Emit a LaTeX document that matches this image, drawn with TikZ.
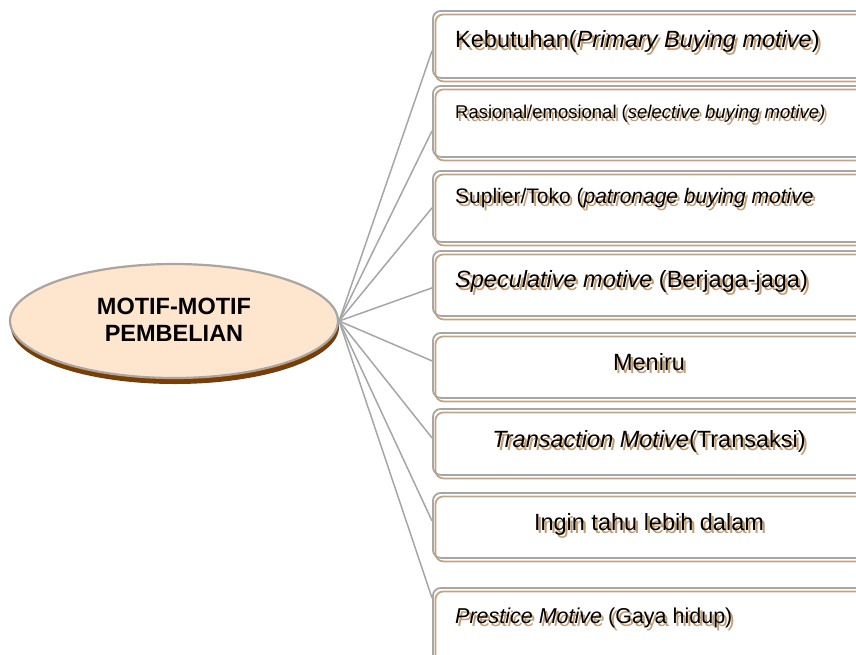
\documentclass[tikz,border=0pt]{standalone}
\usepackage{fontspec}
\setmainfont{Liberation Sans}
\usetikzlibrary{shapes.geometric}
\definecolor{linegray}{RGB}{166,166,166}
\definecolor{tanline}{RGB}{196,164,128}
\definecolor{tanshadow}{RGB}{196,156,112}
\definecolor{peach}{RGB}{253,229,206}
\definecolor{darkbrown}{RGB}{122,62,2}
\tikzset{
  motivebox/.style={draw=linegray, line width=1.8pt, rounded corners=8pt,
    minimum width=440pt, anchor=north west, inner sep=0pt},
  motiveback/.style={motivebox, draw=tanline},
  link/.style={draw=linegray, line width=1.5pt},
  hubshape/.style={ellipse, minimum width=328pt, minimum height=114pt, inner sep=0pt},
  txt/.style={inner sep=0pt, text=black},
}
% text with a tan copy set slightly right and below it
\newcommand\shadowed[1]{%
  \rlap{\hspace{2.5pt}\raisebox{-3.5pt}[0pt][0pt]{\color{tanshadow}#1}}#1}
\begin{document}
\begin{tikzpicture}[x=1pt,y=-1pt]
\useasboundingbox (0,0) rectangle (856,654);
\clip (0,0) rectangle (856,654);

% central ellipse with its dark shadow
\node[hubshape, fill=darkbrown] (hubs) at (175,327) {};
\node[hubshape, fill=peach, draw=linegray, line width=2.2pt] (hub) at (174,321) {};
\node[inner sep=0pt, font=\fontsize{23.5}{27}\selectfont\bfseries, align=center] (hubtext) at (174,320) {MOTIF-MOTIF\\PEMBELIAN};

% boxes: tan outline slightly offset behind the gray one
\foreach \n/\top/\h in {1/10/67, 2/85/71, 3/170/71, 4/250/65, 5/332/65, 6/408/66, 7/492/65, 8/587/78} {
  \node[motiveback, minimum height=\h pt] (k\n) at (434.5,\top+3.5) {};
  \node[motivebox, minimum height=\h pt] (b\n) at (432,\top) {};
}

% connectors from the ellipse to the boxes
\draw[link] (hub.east) -- ([yshift=-6.5pt]b1.west);
\draw[link] (hub.east) -- ([yshift=-9.5pt]b2.west);
\draw[link] (hub.east) -- ([yshift=-1.5pt]b3.west);
\draw[link] (hub.east) -- ([yshift=-4.5pt]b4.west);
\draw[link] (hub.east) -- ([yshift=4.5pt]b5.west);
\draw[link] (hub.east) -- ([yshift=4pt]b6.west);
\draw[link] (hub.east) -- ([yshift=4.5pt]b7.west);
\draw[link] (hub.east) -- ([yshift=29pt]b8.west);

% labels
\node[txt, anchor=base west, font=\fontsize{23.5}{28}\selectfont] (t1) at (455,47)
  {\shadowed{Kebutuhan(\textit{Primary Buying motive})}};
\node[txt, anchor=base west, font=\fontsize{18.5}{22}\selectfont] (t2) at (455,118)
  {\shadowed{Rasional/emosional (\textit{selective buying motive)}}};
\node[txt, anchor=base west, font=\fontsize{21}{25}\selectfont] (t3) at (455,203)
  {\shadowed{Suplier/Toko (\textit{patronage buying motive}}};
\node[txt, anchor=base west, font=\fontsize{23.5}{28}\selectfont] (t4) at (455,287)
  {\shadowed{\textit{Speculative motive} (Berjaga-jaga)}};
\node[txt, anchor=base, font=\fontsize{23.5}{28}\selectfont] (t5) at (649,370)
  {\shadowed{Meniru}};
\node[txt, anchor=base, font=\fontsize{23.5}{28}\selectfont] (t6) at (649,447)
  {\shadowed{\textit{Transaction Motive}(Transaksi)}};
\node[txt, anchor=base, font=\fontsize{23.5}{28}\selectfont] (t7) at (649,530)
  {\shadowed{Ingin tahu lebih dalam}};
\node[txt, anchor=base west, font=\fontsize{21.5}{26}\selectfont] (t8) at (455,623)
  {\shadowed{\textit{Prestice Motive} (Gaya hidup)}};
\end{tikzpicture}
\end{document}
